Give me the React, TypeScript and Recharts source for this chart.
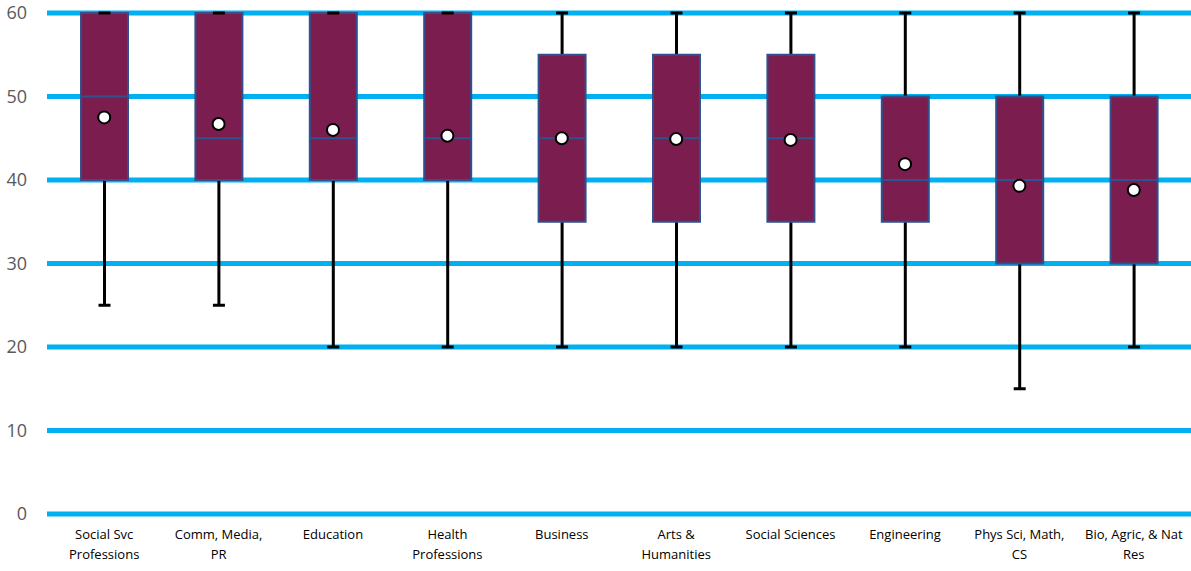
import { Bar, CartesianGrid, ComposedChart, Line, XAxis, YAxis } from "recharts";

const categories = [
  "Social Svc\nProfessions",
  "Comm, Media,\nPR",
  "Education",
  "Health\nProfessions",
  "Business",
  "Arts &\nHumanities",
  "Social Sciences",
  "Engineering",
  "Phys Sci, Math,\nCS",
  "Bio, Agric, & Nat\nRes",
];
const minValues = [25, 25, 20, 20, 20, 20, 20, 20, 15, 20];
const q1Values = [40, 40, 40, 40, 35, 35, 35, 35, 30, 30];
const medianValues = [50, 45, 45, 45, 45, 45, 45, 40, 40, 40];
const q3Values = [60, 60, 60, 60, 55, 55, 55, 50, 50, 50];
const maxValues = [60, 60, 60, 60, 60, 60, 60, 60, 60, 60];
const meanValues = [47.5, 46.7, 46.0, 45.3, 45.0, 44.9, 44.8, 41.9, 39.3, 38.8];
const yTicks = [0, 10, 20, 30, 40, 50, 60];

const chartData = categories.map((name, i) => ({
  name,
  range: [minValues[i], maxValues[i]],
  min: minValues[i],
  q1: q1Values[i],
  median: medianValues[i],
  q3: q3Values[i],
  max: maxValues[i],
  mean: meanValues[i],
}));

function BoxShape(props: any) {
  const { x, y, width, height, payload } = props;
  const unit = height / (payload.max - payload.min);
  const yOf = (v: number) => y + (payload.max - v) * unit;
  const cx = x + width / 2;
  const capHalf = 6;
  return (
    <g>
      <line x1={cx} x2={cx} y1={yOf(payload.max)} y2={yOf(payload.min)} stroke="#000" strokeWidth={3} />
      <rect
        x={x}
        y={yOf(payload.q3)}
        width={width}
        height={yOf(payload.q1) - yOf(payload.q3)}
        fill="#7B1E4F"
        stroke="#2F528F"
        strokeWidth={2}
      />
      <line x1={x} x2={x + width} y1={yOf(payload.median)} y2={yOf(payload.median)} stroke="#2F528F" strokeWidth={2} />
      <line x1={cx - capHalf} x2={cx + capHalf} y1={yOf(payload.max)} y2={yOf(payload.max)} stroke="#000" strokeWidth={3} />
      <line x1={cx - capHalf} x2={cx + capHalf} y1={yOf(payload.min)} y2={yOf(payload.min)} stroke="#000" strokeWidth={3} />
    </g>
  );
}

function CategoryTick(props: any) {
  const { x, y, payload } = props;
  const lines = String(payload.value).split("\n");
  return (
    <text x={x} y={y} textAnchor="middle" fill="#000" fontSize={13} fontFamily="Open Sans">
      {lines.map((line, i) => (
        <tspan key={i} x={x} dy={i === 0 ? 17 : 20}>
          {line}
        </tspan>
      ))}
    </text>
  );
}

export default function App() {
  return (
    <div>
      <style>{`body{margin:0}`}</style>
      <ComposedChart
        width={1191}
        height={571}
        data={chartData}
        margin={{ top: 13, right: 0, bottom: 0, left: 0 }}
      >
        <CartesianGrid vertical={false} stroke="#00B0F0" strokeWidth={5} />
        <XAxis
          dataKey="name"
          axisLine={false}
          tickLine={false}
          interval={0}
          height={57}
          tick={<CategoryTick />}
        />
        <YAxis
          width={47}
          domain={[0, 60]}
          ticks={yTicks}
          axisLine={false}
          tickLine={false}
          tickMargin={14}
          tick={{ fill: "#595959", fontSize: 18, fontFamily: "Open Sans" }}
        />
        <Bar dataKey="range" barSize={47} shape={<BoxShape />} isAnimationActive={false} />
        <Line
          dataKey="mean"
          stroke="none"
          isAnimationActive={false}
          dot={{ r: 6, fill: "#fff", stroke: "#000", strokeWidth: 2 }}
          activeDot={false}
        />
      </ComposedChart>
    </div>
  );
}
